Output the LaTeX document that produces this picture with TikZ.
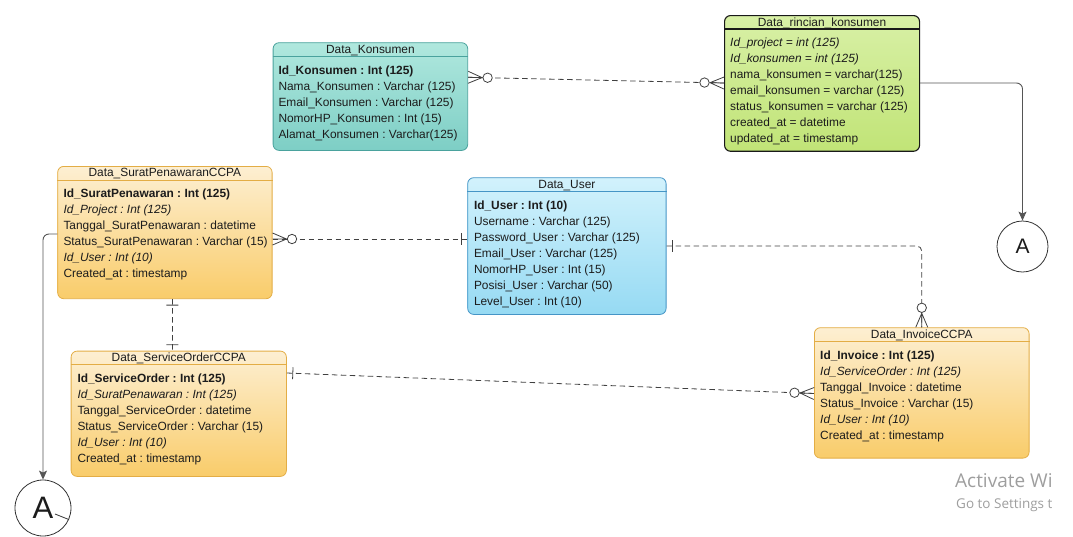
\documentclass[tikz,border=0pt]{standalone}
\usepackage{fontspec}
\setmainfont{Liberation Sans}
\newfontfamily\winfont{Open Sans}
\usetikzlibrary{arrows.meta,positioning,decorations.markings}
\frenchspacing

\definecolor{txt}{HTML}{1C1C1C}
\definecolor{relgray}{HTML}{404040}
\definecolor{linkgray}{HTML}{555555}
\definecolor{tealline}{HTML}{4AA29D}
\definecolor{tealtop}{HTML}{B0E8DE}
\definecolor{tealbot}{HTML}{7DCEC5}
\definecolor{greentop}{HTML}{D8F0A6}
\definecolor{greenbot}{HTML}{C1E477}
\definecolor{orangeline}{HTML}{E3AD45}
\definecolor{orangetop}{HTML}{FDEFD2}
\definecolor{orangebot}{HTML}{F9CC6A}
\definecolor{blueline}{HTML}{4595C6}
\definecolor{bluetop}{HTML}{D2F2FC}
\definecolor{bluebot}{HTML}{96DAF3}

\newcommand{\erfont}{\fontsize{11.9}{16}\selectfont}

\begin{document}
\begin{tikzpicture}[x=1pt, y=-1pt,
    entity/.style={draw, rounded corners=6pt, line width=0.8pt, anchor=north west, inner sep=0pt},
    tealbox/.style={entity, draw=tealline, top color=tealtop, bottom color=tealbot},
    greenbox/.style={entity, draw=black!90, line width=1.1pt, top color=greentop, bottom color=greenbot},
    orangebox/.style={entity, draw=orangeline, top color=orangetop, bottom color=orangebot},
    bluebox/.style={entity, draw=blueline, top color=bluetop, bottom color=bluebot},
    title/.style={font=\erfont, inner sep=0pt, text=txt},
    rows/.style={font=\erfont, align=left, anchor=north west, inner sep=0pt, text=txt},
    rel/.style={draw=relgray, line width=0.8pt, dash pattern=on 5.5pt off 3.5pt},
    mk/.style={solid, sharp corners, draw=relgray, line width=0.8pt},
    many start/.style={postaction={decorate, decoration={markings, mark=at position 0 with {
        \draw[mk] (0pt,6pt) -- (14pt,0pt) -- (0pt,-6pt) (0pt,0pt) -- (14pt,0pt);
        \draw[mk, fill=white] (19.5pt,0pt) circle (4.7pt);}}}},
    many end/.style={postaction={decorate, decoration={markings, mark=at position 1 with {
        \draw[mk] (0pt,6pt) -- (-14pt,0pt) -- (0pt,-6pt) (0pt,0pt) -- (-14pt,0pt);
        \draw[mk, fill=white] (-19.5pt,0pt) circle (4.7pt);}}}},
    one start/.style={postaction={decorate, decoration={markings, mark=at position 0 with {
        \draw[mk] (6pt,6pt) -- (6pt,-6pt);}}}},
    one end/.style={postaction={decorate, decoration={markings, mark=at position 1 with {
        \draw[mk] (-6pt,6pt) -- (-6pt,-6pt);}}}},
    link/.style={draw=linkgray, line width=0.9pt, rounded corners=6pt, -{Stealth[length=9pt, width=8pt, inset=2pt]}},
    offpage/.style={circle, draw=black!80, line width=0.8pt, fill=white, inner sep=0pt, text=txt}
]
\useasboundingbox (0,0) rectangle (1073,536);

\node[tealbox, minimum width=194.6pt, minimum height=107.7pt] (kons) at (272.7,42.3) {};
\draw[tealline, line width=0.8pt] ([yshift=-14pt]kons.north west) -- ([yshift=-14pt]kons.north east);
\node[title] (kons-t) at ([yshift=-8pt]kons.north) {Data\_Konsumen};
\node[rows] (kons-r) at ([xshift=5.6pt, yshift=-23pt]kons.north west) {\textbf{Id\_Konsumen : Int (125)}\\ Nama\_Konsumen : Varchar (125)\\ Email\_Konsumen : Varchar (125)\\ NomorHP\_Konsumen : Int (15)\\ Alamat\_Konsumen : Varchar(125)};

\node[greenbox, minimum width=195pt, minimum height=135.7pt] (rinci) at (724,15) {};
\draw[black!90, line width=1.1pt] ([yshift=-14pt]rinci.north west) -- ([yshift=-14pt]rinci.north east);
\node[title] (rinci-t) at ([yshift=-8pt]rinci.north) {Data\_rincian\_konsumen};
\node[rows] (rinci-r) at ([xshift=6pt, yshift=-23pt]rinci.north west) {\textit{Id\_project = int (125)}\\ \textit{Id\_konsumen = int (125)}\\ nama\_konsumen = varchar(125)\\ email\_konsumen = varchar (125)\\ status\_konsumen = varchar (125)\\ created\_at = datetime\\ updated\_at = timestamp};

\node[orangebox, minimum width=214.4pt, minimum height=132.3pt] (surat) at (57.3,166) {};
\draw[orangeline, line width=0.8pt] ([yshift=-14pt]surat.north west) -- ([yshift=-14pt]surat.north east);
\node[title] (surat-t) at ([yshift=-8pt]surat.north) {Data\_SuratPenawaranCCPA};
\node[rows] (surat-r) at ([xshift=6pt, yshift=-23pt]surat.north west) {\textbf{Id\_SuratPenawaran : Int (125)}\\ \textit{Id\_Project : Int (125)}\\ Tanggal\_SuratPenawaran : datetime\\ Status\_SuratPenawaran : Varchar (15)\\ \textit{Id\_User : Int (10)}\\ Created\_at : timestamp};

\node[bluebox, minimum width=198.4pt, minimum height=136.7pt] (user) at (467.3,177.3) {};
\draw[blueline, line width=0.8pt] ([yshift=-14pt]user.north west) -- ([yshift=-14pt]user.north east);
\node[title] (user-t) at ([yshift=-8pt]user.north) {Data\_User};
\node[rows] (user-r) at ([xshift=6.5pt, yshift=-23pt]user.north west) {\textbf{Id\_User : Int (10)}\\ Username : Varchar (125)\\ Password\_User : Varchar (125)\\ Email\_User : Varchar (125)\\ NomorHP\_User : Int (15)\\ Posisi\_User : Varchar (50)\\ Level\_User : Int (10)};

\node[orangebox, minimum width=215.3pt, minimum height=125.3pt] (sorder) at (70.7,350.7) {};
\draw[orangeline, line width=0.8pt] ([yshift=-14pt]sorder.north west) -- ([yshift=-14pt]sorder.north east);
\node[title] (sorder-t) at ([yshift=-8pt]sorder.north) {Data\_ServiceOrderCCPA};
\node[rows] (sorder-r) at ([xshift=6.6pt, yshift=-23pt]sorder.north west) {\textbf{Id\_ServiceOrder : Int (125)}\\ \textit{Id\_SuratPenawaran : Int (125)}\\ Tanggal\_ServiceOrder : datetime\\ Status\_ServiceOrder : Varchar (15)\\ \textit{Id\_User : Int (10)}\\ Created\_at : timestamp};

\node[orangebox, minimum width=214.7pt, minimum height=130.4pt] (invoice) at (814,327.3) {};
\draw[orangeline, line width=0.8pt] ([yshift=-14pt]invoice.north west) -- ([yshift=-14pt]invoice.north east);
\node[title] (invoice-t) at ([yshift=-8pt]invoice.north) {Data\_InvoiceCCPA};
\node[rows] (invoice-r) at ([xshift=6pt, yshift=-23pt]invoice.north west) {\textbf{Id\_Invoice : Int (125)}\\ \textit{Id\_ServiceOrder : Int (125)}\\ Tanggal\_Invoice : datetime\\ Status\_Invoice : Varchar (15)\\ \textit{Id\_User : Int (10)}\\ Created\_at : timestamp};

\node[offpage, minimum size=51pt, font=\fontsize{21}{21}\selectfont] (conR) at (1022.5,246.5) {A};
\node[offpage, minimum size=56pt, font=\fontsize{31}{31}\selectfont] (conL) at (43,508) {A};
\draw[black!80, line width=0.8pt] ([shift={(12pt,-6pt)}]conL.center) -- (conL.-24);

\draw[rel, many start, many end] ([yshift=-35pt]kons.north east) -- ([yshift=-68pt]rinci.north west);
\draw[rel, many start, one end] ([yshift=-73pt]surat.north east) -- ([yshift=-61.7pt]user.north west);
\draw[rel, rounded corners=5pt, one start, many end] ([yshift=-68.7pt]user.north east) -| (invoice.north);
\draw[rel, one start, one end] ([xshift=7.5pt]surat.south) -- ([xshift=-6.3pt]sorder.north);
\draw[rel, one start, many end] ([yshift=-22.3pt]sorder.north east) -- ([yshift=-66.2pt]invoice.north west);

\draw[link] ([yshift=-68pt]rinci.north east) -| (conR.north);
\draw[link] ([yshift=-68pt]surat.north west) -| (conL.north);

\node[anchor=west, inner sep=0pt, text=black!38, font=\winfont\fontsize{19}{19}\selectfont] (winA) at (955,481) {Activate Wi};
\node[anchor=west, inner sep=0pt, text=black!38, font=\winfont\fontsize{13.5}{13.5}\selectfont] (winB) at (956,505) {Go to Settings t};
\end{tikzpicture}
\end{document}
